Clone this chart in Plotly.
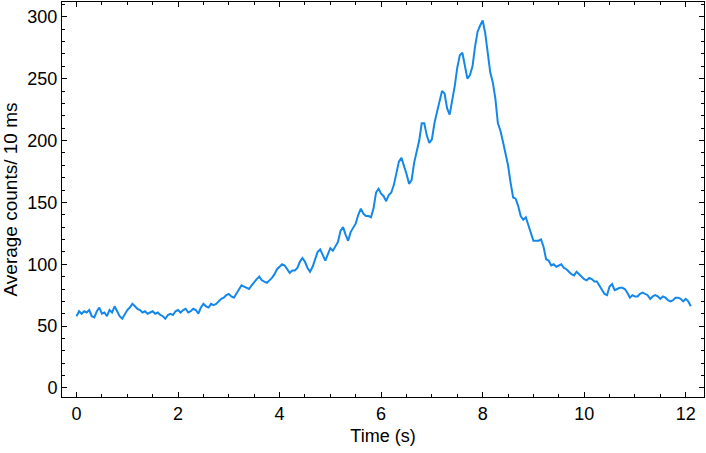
import numpy as np
import plotly.graph_objects as go

time_step = 0.05  # s, spacing of the readings
counts = [
    58, 62, 60, 62, 61, 63, 58, 57, 62, 65, 60, 61, 58, 63, 61, 66, 62, 58, 56, 60,
    63, 65, 68, 66, 64, 63, 61, 62, 60, 61, 62, 60, 61, 59, 58, 56, 59, 60, 59, 62,
    63, 61, 63, 64, 61, 62, 64, 63, 60, 65, 68, 66, 65, 68, 67, 68, 70, 72, 73, 75,
    76, 74, 73, 76, 80, 83, 82, 81, 80, 83, 86, 88, 90, 87, 86, 85, 87, 89, 92, 96,
    98, 100, 99, 96, 93, 95, 95, 97, 102, 105, 102, 97, 94, 98, 104, 110, 112, 108, 103, 108,
    113, 111, 114, 118, 127, 130, 124, 119, 126, 130, 133, 140, 145, 141, 139, 139, 138, 145, 158, 161,
    157, 155, 151, 156, 158, 164, 175, 183, 186, 180, 173, 165, 168, 182, 190, 200, 214, 214, 204, 198,
    201, 214, 223, 231, 240, 238, 226, 221, 232, 244, 259, 269, 271, 260, 250, 253, 260, 276, 288, 293,
    297, 287, 271, 255, 247, 234, 214, 208, 199, 189, 180, 166, 154, 153, 147, 139, 136, 138, 131, 124,
    119, 119, 119, 120, 114, 104, 103, 99, 100, 98, 99, 100, 97, 96, 94, 92, 91, 94, 92, 90,
    88, 87, 89, 88, 86, 86, 83, 80, 76, 75, 82, 84, 79, 80, 81, 81, 80, 77, 73, 75,
    74, 74, 76, 77, 76, 75, 72, 74, 75, 74, 72, 74, 73, 71, 70, 71, 73, 73, 72, 70,
    72, 70, 66,
]
times = np.round(np.arange(len(counts)) * time_step, 3)

x_title = "Time (s)"
y_title = "Average counts/ 10 ms"
FONT = "Liberation Sans, Arial, sans-serif"

fig = go.Figure(
    go.Scatter(x=times, y=counts, mode="lines",
               line=dict(color="rgb(20,136,234)", width=2), showlegend=False)
)

axis_common = dict(
    showline=True, linecolor="black", linewidth=1, mirror="ticks",
    ticks="inside", ticklen=5, tickcolor="black", tickwidth=1,
    showgrid=False, zeroline=False, automargin=False,
    tickfont=dict(family=FONT, size=18, color="black"),
)

fig.update_xaxes(
    range=[-0.286, 12.36], dtick=2, tick0=0,
    minor=dict(ticks="inside", ticklen=3, dtick=0.5, tickcolor="black"),
    title=dict(text=x_title, font=dict(family=FONT, size=18, color="black"), standoff=6),
    **axis_common,
)
fig.update_yaxes(
    range=[-7.3, 312], dtick=50, tick0=0,
    minor=dict(ticks="inside", ticklen=3, dtick=10, tickcolor="black"),
    title=dict(text=y_title, font=dict(family=FONT, size=19, color="black"), standoff=6),
    **axis_common,
)

fig.update_layout(
    width=706, height=453,
    margin=dict(l=62, r=2, t=2, b=56),
    plot_bgcolor="white", paper_bgcolor="white",
)

fig.write_html("out.html", config={"displayModeBar": False},
               post_script="document.body.style.margin='0';")
